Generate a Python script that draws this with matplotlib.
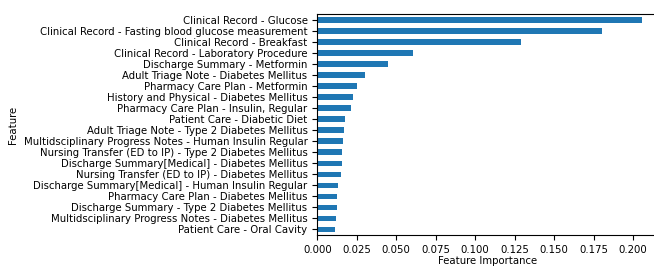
import matplotlib
matplotlib.use('Agg')
import matplotlib.pyplot as plt

features = [
    "Clinical Record - Glucose",
    "Clinical Record - Fasting blood glucose measurement",
    "Clinical Record - Breakfast",
    "Clinical Record - Laboratory Procedure",
    "Discharge Summary - Metformin",
    "Adult Triage Note - Diabetes Mellitus",
    "Pharmacy Care Plan - Metformin",
    "History and Physical - Diabetes Mellitus",
    "Pharmacy Care Plan - Insulin, Regular",
    "Patient Care - Diabetic Diet",
    "Adult Triage Note - Type 2 Diabetes Mellitus",
    "Multidsciplinary Progress Notes - Human Insulin Regular",
    "Nursing Transfer (ED to IP) - Type 2 Diabetes Mellitus",
    "Discharge Summary[Medical] - Diabetes Mellitus",
    "Nursing Transfer (ED to IP) - Diabetes Mellitus",
    "Discharge Summary[Medical] - Human Insulin Regular",
    "Pharmacy Care Plan - Diabetes Mellitus",
    "Discharge Summary - Type 2 Diabetes Mellitus",
    "Multidsciplinary Progress Notes - Diabetes Mellitus",
    "Patient Care - Oral Cavity",
]
importance = [0.2055, 0.1802, 0.1289, 0.0606, 0.0447, 0.0302, 0.0251, 0.0226,
              0.0213, 0.0175, 0.0169, 0.0163, 0.0156, 0.0156, 0.0150, 0.0131,
              0.0125, 0.0125, 0.0118, 0.0112]
xticks = [0, 0.025, 0.05, 0.075, 0.1, 0.125, 0.15, 0.175, 0.2]

fs = 7.3
fig = plt.figure(figsize=(6.54, 2.66), dpi=100)
# right edge sits just past the figure, as in the cropped original
ax = fig.add_axes([0.4852, 0.1165, 0.521, 0.8297])

ypos = list(range(len(features)))
ax.barh(ypos, importance, height=0.5, color='#1f77b4')
ax.set_yticks(ypos)
ax.set_yticklabels(features, fontsize=fs)
ax.set_ylim(len(features) - 0.5, -0.5)
ax.set_xlim(0, max(importance) * 1.05)
ax.set_xticks(xticks)
ax.set_xticklabels([f"{v:.3f}" for v in xticks], fontsize=fs)
ax.set_xlabel('Feature Importance', fontsize=fs, labelpad=1)
ax.set_ylabel('Feature', fontsize=fs)

fig.savefig('out.png', dpi=100)
